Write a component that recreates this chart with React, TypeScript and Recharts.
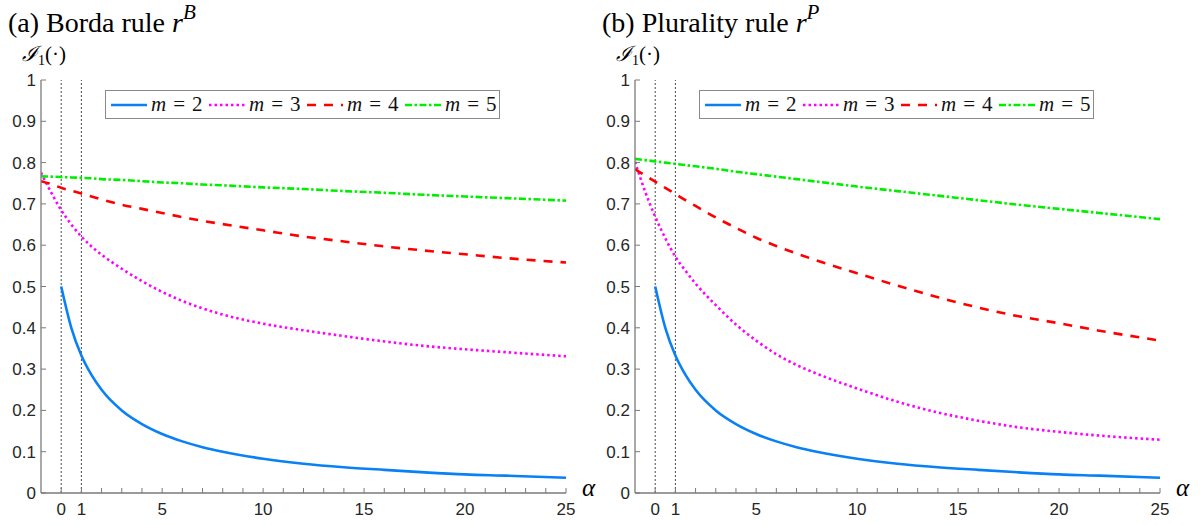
import React from 'react';
import { LineChart, Line, XAxis, YAxis, ReferenceLine } from 'recharts';

// alpha values the curves were read at
const alphaGrid = [-1, -0.5, 0, 0.5, 1, 1.5, 2, 3, 4, 5, 6, 7, 8, 10, 12, 14, 16, 18, 20, 22, 25];

// (a) Borda rule
const bordaM2 = [null, null, 0.5, 0.4, 0.333, 0.286, 0.25, 0.2, 0.167, 0.143, 0.125, 0.111, 0.1, 0.083, 0.071, 0.0625, 0.056, 0.05, 0.045, 0.042, 0.037];
const bordaM3 = [0.776, 0.728, 0.685, 0.65, 0.621, 0.597, 0.577, 0.543, 0.513, 0.487, 0.465, 0.447, 0.432, 0.41, 0.394, 0.38, 0.367, 0.356, 0.348, 0.341, 0.331];
const bordaM4 = [0.755, 0.748, 0.739, 0.732, 0.725, 0.718, 0.711, 0.698, 0.688, 0.678, 0.668, 0.659, 0.651, 0.636, 0.621, 0.609, 0.597, 0.587, 0.578, 0.569, 0.558];
const bordaM5 = [0.767, 0.766, 0.765, 0.764, 0.763, 0.762, 0.76, 0.758, 0.755, 0.752, 0.75, 0.747, 0.745, 0.74, 0.736, 0.731, 0.727, 0.722, 0.718, 0.714, 0.708];

// (b) Plurality rule
const pluralityM2 = [null, null, 0.5, 0.4, 0.333, 0.286, 0.25, 0.2, 0.167, 0.143, 0.125, 0.111, 0.1, 0.083, 0.071, 0.0625, 0.056, 0.05, 0.045, 0.042, 0.037];
const pluralityM3 = [0.802, 0.73, 0.669, 0.617, 0.572, 0.538, 0.507, 0.455, 0.408, 0.369, 0.336, 0.31, 0.289, 0.253, 0.221, 0.195, 0.175, 0.159, 0.148, 0.139, 0.129];
const pluralityM4 = [0.784, 0.769, 0.754, 0.739, 0.724, 0.709, 0.695, 0.667, 0.642, 0.618, 0.598, 0.58, 0.563, 0.532, 0.502, 0.474, 0.449, 0.428, 0.411, 0.393, 0.369];
const pluralityM5 = [0.809, 0.806, 0.803, 0.8, 0.797, 0.794, 0.791, 0.785, 0.778, 0.772, 0.766, 0.76, 0.754, 0.742, 0.731, 0.72, 0.709, 0.698, 0.688, 0.678, 0.663];

const xTicks = [0, 1, 2, 3, 4, 5, 6, 7, 8, 9, 10, 11, 12, 13, 14, 15, 16, 17, 18, 19, 20, 21, 22, 23, 24, 25];
const xTickLabels = [0, 1, 5, 10, 15, 20, 25];
const yTicks = [0, 0.1, 0.2, 0.3, 0.4, 0.5, 0.6, 0.7, 0.8, 0.9, 1];
const markerLines = [0, 1];

const series = [
  { key: 'm2', m: '2', color: '#0a80f5', dash: undefined },
  { key: 'm3', m: '3', color: '#ff00ff', dash: '2.5 3' },
  { key: 'm4', m: '4', color: '#ff0000', dash: '9 8' },
  { key: 'm5', m: '5', color: '#00ee00', dash: '7 2.5 2.5 2.5' },
];

const buildData = (m2: any[], m3: number[], m4: number[], m5: number[]) =>
  alphaGrid.map((alpha, i) => ({ alpha, m2: m2[i], m3: m3[i], m4: m4[i], m5: m5[i] }));

const bordaData = buildData(bordaM2, bordaM3, bordaM4, bordaM5);
const pluralityData = buildData(pluralityM2, pluralityM3, pluralityM4, pluralityM5);

const axisColor = '#7a7a7a';
const labelColor = '#262626';
const sans = '"Liberation Sans", Arial, Helvetica, sans-serif';
const serif = '"Liberation Serif", "DejaVu Serif", serif';

function XTick(props: any) {
  const { x, y, payload } = props;
  const showLabel = xTickLabels.includes(payload.value);
  return (
    <g>
      <line x1={x} y1={y} x2={x} y2={y - 5} stroke={axisColor} strokeWidth={1} />
      {showLabel && (
        <text x={x} y={y + 22} textAnchor="middle" fontSize={17} fontFamily={sans} fill={labelColor}>
          {payload.value}
        </text>
      )}
    </g>
  );
}

function YTick(props: any) {
  const { x, y, payload } = props;
  const label = payload.value === 0 || payload.value === 1 ? String(payload.value) : payload.value.toFixed(1);
  return (
    <g>
      <line x1={x} y1={y} x2={x + 5} y2={y} stroke={axisColor} strokeWidth={1} />
      <text x={x - 5} y={y + 6} textAnchor="end" fontSize={17} fontFamily={sans} fill={labelColor}>
        {label}
      </text>
    </g>
  );
}

function LegendBox() {
  return (
    <div
      style={{
        position: 'absolute',
        left: 105,
        top: 90,
        width: 388,
        height: 27,
        border: '1px solid #8a8a8a',
        background: '#fff',
        display: 'flex',
        alignItems: 'center',
        paddingLeft: 5,
        boxSizing: 'content-box',
      }}
    >
      {series.map((s) => (
        <div key={s.key} style={{ display: 'flex', alignItems: 'center', marginRight: 6 }}>
          <svg width={36} height={10} style={{ display: 'block' }}>
            <line x1={0} y1={5} x2={36} y2={5} stroke={s.color} strokeWidth={2.6} strokeDasharray={s.dash} />
          </svg>
          <span style={{ fontFamily: serif, fontSize: 21, color: '#111', marginLeft: 4, whiteSpace: 'pre', width: 52 }}>
            <i>m</i>{'\u2004=\u2004'}{s.m}
          </span>
        </div>
      ))}
    </div>
  );
}

interface PanelProps {
  left: number;
  data: any[];
  prefix: string;
  sup: string;
}

function Panel({ left, data, prefix, sup }: PanelProps) {
  return (
    <div style={{ position: 'absolute', left, top: 0, width: 600, height: 525 }}>
      <LineChart width={600} height={525} data={data} margin={{ top: 80, right: 34, left: 0, bottom: 0 }}>
        <XAxis
          dataKey="alpha"
          type="number"
          domain={[-1, 25]}
          ticks={xTicks}
          allowDataOverflow
          height={32}
          tickSize={0}
          tickMargin={0}
          tickLine={false}
          axisLine={{ stroke: axisColor, strokeWidth: 1.3 }}
          tick={<XTick />}
          interval={0}
        />
        <YAxis
          domain={[0, 1]}
          ticks={yTicks}
          width={41}
          tickSize={0}
          tickMargin={0}
          tickLine={false}
          axisLine={{ stroke: axisColor, strokeWidth: 1.3 }}
          tick={<YTick />}
          interval={0}
        />
        {markerLines.map((v) => (
          <ReferenceLine key={v} x={v} stroke="#333" strokeWidth={0.9} strokeDasharray="2 2" />
        ))}
        {series.map((s) => (
          <Line
            key={s.key}
            dataKey={s.key}
            type="monotone"
            stroke={s.color}
            strokeWidth={2.6}
            strokeDasharray={s.dash}
            dot={false}
            activeDot={false}
            isAnimationActive={false}
          />
        ))}
      </LineChart>
      <svg width={600} height={525} style={{ position: 'absolute', left: 0, top: 0, pointerEvents: 'none' }}>
        <text x={8} y={32} fontFamily={serif} fontSize={28} fill="#000">
          {prefix}
          <tspan fontStyle="italic">r</tspan>
          <tspan fontStyle="italic" fontSize={21} dy={-13}>{sup}</tspan>
        </text>
        <text x={22} y={61} fontFamily={serif} fontSize={21} fill="#000">
          <tspan fontStyle="italic">ℐ</tspan>
          <tspan fontSize={14} dy={4}>1</tspan>
          <tspan dy={-4}>(·)</tspan>
        </text>
        <text x={582} y={496} fontFamily={serif} fontSize={25} fontStyle="italic" fill="#000">
          α
        </text>
      </svg>
      <LegendBox />
    </div>
  );
}

export default function App() {
  return (
    <div style={{ position: 'absolute', left: 0, top: 0, width: 1200, height: 525, background: '#fff' }}>
      <Panel left={0} data={bordaData} prefix="(a) Borda rule " sup="B" />
      <Panel left={594} data={pluralityData} prefix="(b) Plurality rule " sup="P" />
    </div>
  );
}
